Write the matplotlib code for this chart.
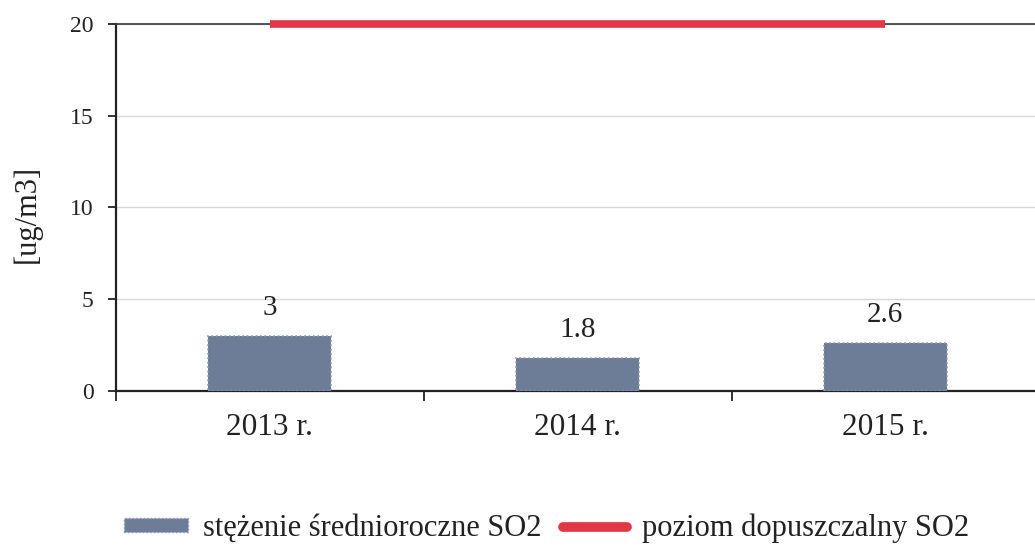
import matplotlib.pyplot as plt
from matplotlib.patches import Patch
from matplotlib.lines import Line2D

# dane
years = ["2013 r.", "2014 r.", "2015 r."]
so2_mean = [3, 1.8, 2.6]
so2_limit = [20, 20, 20]
y_ticks = [0, 5, 10, 15, 20]

plt.rcParams['font.family'] = ['Liberation Serif', 'DejaVu Serif']

fig = plt.figure(figsize=(10.35, 5.46), dpi=100)
ax = fig.add_axes([0.1121, 0.2839, 0.892, 0.6722])

x = range(len(years))
bar_color = '#6d7d98'
rects = ax.bar(x, so2_mean, width=0.4, color=bar_color, edgecolor='#8a98b0',
               linestyle=':', linewidth=1.2, zorder=3)
for i in range(len(years)):
    ax.annotate(f"{so2_mean[i]}", (x[i], so2_mean[i]), xytext=(0, 11),
                textcoords='offset points', ha='center', va='bottom',
                fontsize=21, color='#222222')

ax.plot(x, so2_limit, color='#e23744', linewidth=5.5, solid_capstyle='butt',
        clip_on=False, zorder=4)

# osie
ax.set_xlim(-0.5, 2.5)
ax.set_ylim(0, 20)
ax.set_yticks(y_ticks)
ax.tick_params(axis='y', labelsize=17, length=6, width=1.3, pad=10, colors='#222222')
ax.set_xticks(list(x))
ax.set_xticklabels(years)
ax.tick_params(axis='x', which='major', length=0, labelsize=22.5, pad=16, colors='#222222')
ax.set_xticks([-0.5, 0.5, 1.5, 2.5], minor=True)
ax.tick_params(axis='x', which='minor', length=7, width=1.3, direction='out', color='#222222')

ax.grid(axis='y', color='#d8d8d8', linewidth=1, zorder=0)
ax.set_axisbelow(True)
ax.spines['right'].set_visible(False)
ax.spines['top'].set_color('#444444')
ax.spines['top'].set_linewidth(1.3)
ax.spines['left'].set_linewidth(1.6)
ax.spines['left'].set_color('#222222')
ax.spines['bottom'].set_linewidth(1.6)
ax.spines['bottom'].set_color('#222222')

fig.text(27 / 1035, 1 - 214 / 546, "[ug/m3]", rotation=90, ha='center', va='center',
         fontsize=22, color='#222222')

# legenda
handles = [Patch(facecolor=bar_color, edgecolor='#8a98b0', linestyle=':'),
           Line2D([0], [0], color='#e23744', linewidth=7, solid_capstyle='round')]
labels = ["stężenie średnioroczne SO2", "poziom dopuszczalny SO2"]
fig.legend(handles, labels, loc='center', bbox_to_anchor=(0.528, 1 - 528 / 546),
           ncol=2, frameon=False, fontsize=22, handlelength=2.1, handleheight=0.35,
           handletextpad=0.5, columnspacing=0.7, labelcolor='#222222')

plt.savefig("out.png", dpi=100)
